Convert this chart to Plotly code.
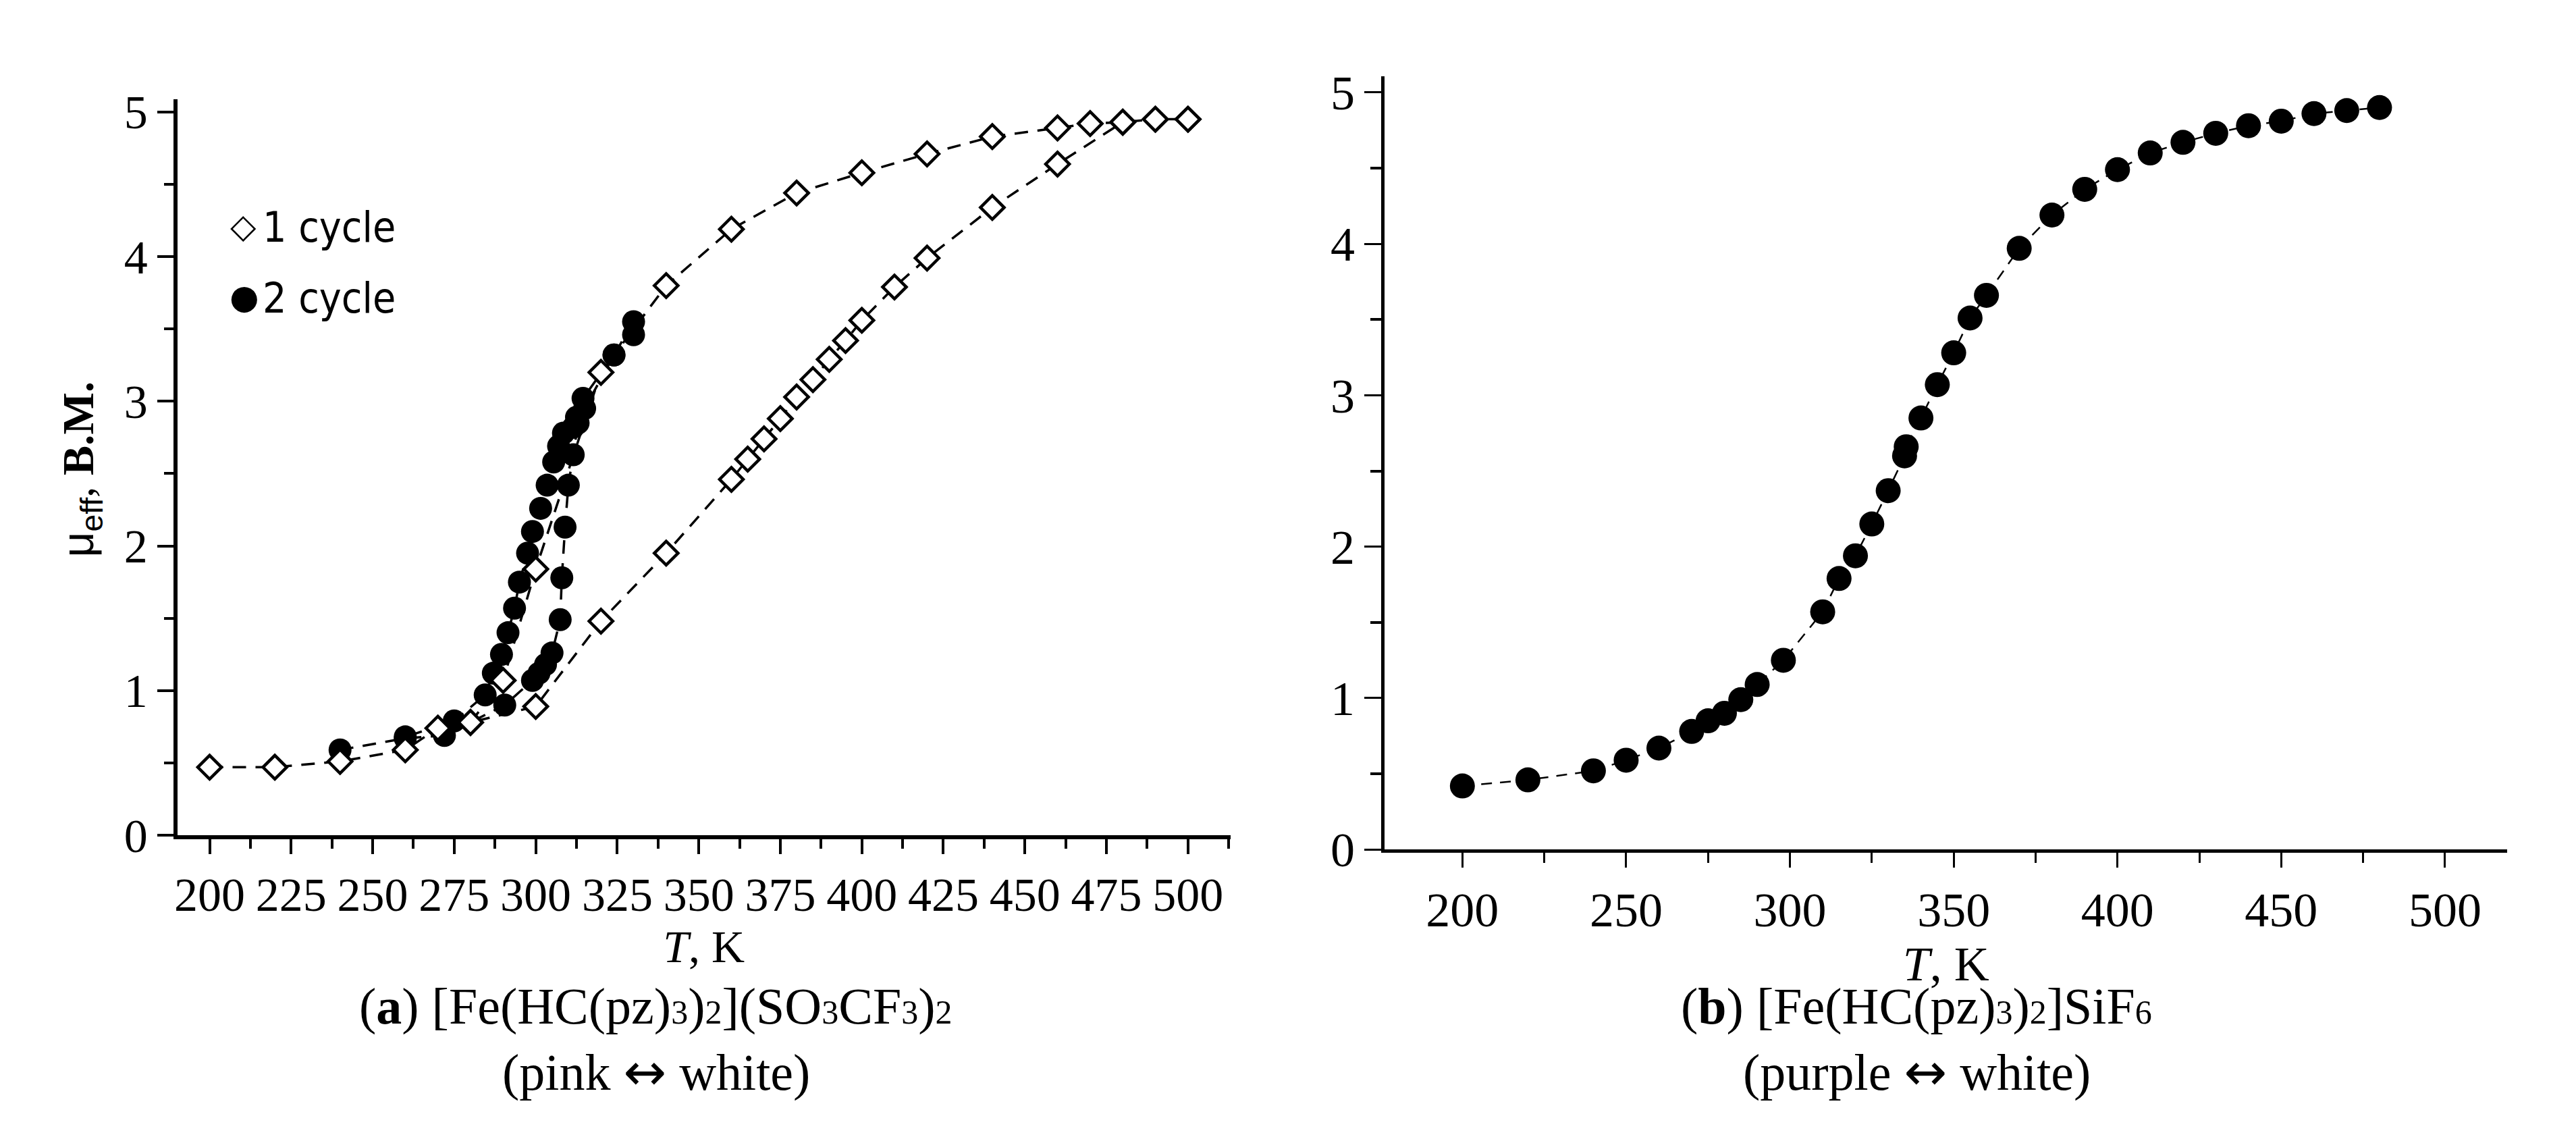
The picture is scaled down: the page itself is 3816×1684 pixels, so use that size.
import plotly.graph_objects as go

# (a) [Fe(HC(pz)3)2](SO3CF3)2 -- cycle 1, heating and cooling branches
c1_heat_T = [200, 220, 240, 260, 270, 280, 300, 320, 340, 360, 365, 370, 375, 380,
             385, 390, 395, 400, 410, 420, 440, 460, 480, 490, 500]
c1_heat_mu = [0.47, 0.47, 0.51, 0.59, 0.74, 0.78, 0.89, 1.48, 1.95, 2.46, 2.6, 2.74,
              2.88, 3.03, 3.15, 3.29, 3.42, 3.56, 3.79, 3.99, 4.34, 4.64, 4.93, 4.95, 4.95]
c1_cool_T = [500, 490, 480, 470, 460, 440, 420, 400, 380, 360, 340, 320, 300, 290, 280]
c1_cool_mu = [4.95, 4.95, 4.93, 4.92, 4.89, 4.83, 4.71, 4.58, 4.44, 4.19, 3.80, 3.20,
              1.84, 1.07, 0.78]

# cycle 2
c2_heat_T = [240, 260, 272, 290.5, 299, 301, 303, 305, 307.5, 308, 309, 310, 311.5,
             313, 315, 324, 330]
c2_heat_mu = [0.59, 0.67, 0.69, 0.9, 1.07, 1.12, 1.18, 1.26, 1.49, 1.78, 2.13, 2.42,
              2.63, 2.85, 2.95, 3.32, 3.46]
c2_cool_T = [330, 324, 314.5, 312.5, 311.5, 308.5, 307, 305.5, 303.5, 301.5, 299, 297.5,
             295, 293.5, 291.5, 289.5, 287, 284.5, 275, 260]
c2_cool_mu = [3.55, 3.32, 3.02, 2.89, 2.82, 2.78, 2.69, 2.58, 2.42, 2.26, 2.1, 1.95,
              1.75, 1.57, 1.4, 1.25, 1.12, 0.97, 0.79, 0.68]

# (b) [Fe(HC(pz)3)2]SiF6
b_T = [200, 220, 240, 250, 260, 270, 275, 280, 285, 290, 298, 310, 315, 320, 325, 330,
       335, 335.5, 340, 345, 350, 355, 360, 370, 380, 390, 400, 410, 420, 430, 440,
       450, 460, 470, 480]
b_mu = [0.42, 0.46, 0.52, 0.59, 0.67, 0.78, 0.85, 0.9, 0.99, 1.09, 1.25, 1.57, 1.79,
        1.94, 2.15, 2.37, 2.6, 2.66, 2.85, 3.07, 3.28, 3.51, 3.66, 3.97, 4.19, 4.36,
        4.49, 4.6, 4.67, 4.73, 4.78, 4.81, 4.86, 4.88, 4.9]

left_ticks = list(range(200, 501, 25))
right_ticks = list(range(200, 501, 50))

W, H = 3816, 1684
serif = "Liberation Serif"
dash = "20px,14px"

fig = go.Figure()

# cycle 2 below cycle 1
for T, mu in [(c2_heat_T, c2_heat_mu), (c2_cool_T, c2_cool_mu)]:
    fig.add_trace(go.Scatter(
        x=T, y=mu, mode="lines+markers", showlegend=False,
        line=dict(color="black", width=3.5, dash=dash),
        marker=dict(symbol="circle", size=34, color="black"),
        xaxis="x", yaxis="y"))
for T, mu in [(c1_heat_T, c1_heat_mu), (c1_cool_T, c1_cool_mu)]:
    fig.add_trace(go.Scatter(
        x=T, y=mu, mode="lines+markers", showlegend=False,
        line=dict(color="black", width=3.5, dash=dash),
        marker=dict(symbol="diamond", size=27, color="white",
                    line=dict(color="black", width=4.5)),
        xaxis="x", yaxis="y"))

fig.add_trace(go.Scatter(
    x=b_T, y=b_mu, mode="lines+markers", showlegend=False,
    line=dict(color="black", width=2.5, dash="16px,12px"),
    marker=dict(symbol="circle", size=37, color="black"),
    xaxis="x2", yaxis="y2"))

tickfont = dict(family=serif, size=70, color="black")

fig.update_layout(
    width=W, height=H,
    margin=dict(l=0, r=0, t=0, b=0),
    paper_bgcolor="white", plot_bgcolor="white",
    showlegend=False,
    xaxis=dict(
        domain=[250 / W, 1812 / W], range=[190.1, 513.0],
        tickvals=left_ticks, ticktext=[str(v) for v in left_ticks],
        ticks="outside", ticklen=22, tickwidth=4, tickcolor="black",
        minor=dict(tickvals=[v + 12.5 for v in left_ticks], ticks="outside",
                   ticklen=14, tickwidth=4, tickcolor="black"),
        showline=True, linewidth=6, linecolor="black",
        showgrid=False, zeroline=False, tickfont=tickfont,
        title=dict(text="<i>T</i>, K", font=dict(family=serif, size=68, color="black"),
                   standoff=2),
        anchor="y",
    ),
    yaxis=dict(
        domain=[1 - 1255 / H, 1 - 125 / H], range=[0, 5.09],
        tickvals=[0, 1, 2, 3, 4, 5],
        ticks="outside", ticklen=24, tickwidth=4, tickcolor="black",
        minor=dict(tickvals=[0.5, 1.5, 2.5, 3.5, 4.5], ticks="outside",
                   ticklen=14, tickwidth=4, tickcolor="black"),
        showline=True, linewidth=6, linecolor="black",
        showgrid=False, zeroline=False, tickfont=tickfont,
        anchor="x",
    ),
    xaxis2=dict(
        domain=[2041 / W, 3706 / W], range=[176.3, 519.0],
        tickvals=right_ticks, ticktext=[str(v) for v in right_ticks],
        ticks="outside", ticklen=22, tickwidth=3, tickcolor="black",
        minor=dict(tickvals=[v + 25 for v in right_ticks[:-1]], ticks="outside",
                   ticklen=15, tickwidth=3, tickcolor="black"),
        showline=True, linewidth=5, linecolor="black",
        showgrid=False, zeroline=False,
        tickfont=dict(family=serif, size=72, color="black"),
        title=dict(text="<i>T</i>, K", font=dict(family=serif, size=72, color="black"),
                   standoff=0),
        anchor="y2",
    ),
    yaxis2=dict(
        domain=[1 - 1277 / H, 1 - 90 / H], range=[0, 5.107],
        tickvals=[0, 1, 2, 3, 4, 5],
        ticks="outside", ticklen=25, tickwidth=3, tickcolor="black",
        minor=dict(tickvals=[0.5, 1.5, 2.5, 3.5, 4.5], ticks="outside",
                   ticklen=16, tickwidth=4, tickcolor="black"),
        showline=True, linewidth=5, linecolor="black",
        showgrid=False, zeroline=False,
        tickfont=dict(family=serif, size=72, color="black"),
        anchor="x2",
    ),
)


def note(text, x, y, font, **kw):
    # place a text in figure pixels (from the top-left corner)
    fig.add_annotation(text=text, xref="paper", yref="paper", x=x / W, y=1 - y / H,
                       xanchor=kw.pop("xanchor", "center"), yanchor="middle",
                       showarrow=False, font=font, **kw)


def small(d):
    # small digit sitting on the baseline, as in the caption
    return '<span style="font-size:50px">%s</span>' % d


arrow = '<span style="font-family:DejaVu Sans">↔</span>'

# y-axis title of panel (a)
note('<span style="font-family:Liberation Sans">μ<sub>eff</sub></span>, <b>B.M.</b>',
     107, 693, dict(family=serif, size=66, color="black"), textangle=-90)

# legend of panel (a)
legend_font = dict(family="Liberation Sans Narrow, DejaVu Sans Condensed, Liberation Sans",
                   size=62, color="black")
note("◇", 348, 320, dict(family="DejaVu Sans", size=50, color="black"))
note("1 cycle", 374, 322, legend_font, xanchor="left")
note("●", 349, 429, dict(family="DejaVu Sans", size=50, color="black"))
note("2 cycle", 374, 431, legend_font, xanchor="left")

# captions
cap_font = dict(family=serif, size=76, color="black")
note("(<b>a</b>) [Fe(HC(pz)%s)%s](SO%sCF%s)%s"
     % (small(3), small(2), small(3), small(3), small(2)), 960, 1518, cap_font)
note("(pink %s white)" % arrow, 960, 1618, cap_font)
note("(<b>b</b>) [Fe(HC(pz)%s)%s]SiF%s" % (small(3), small(2), small(6)),
     2830, 1518, cap_font)
note("(purple %s white)" % arrow, 2830, 1618, cap_font)

fig.write_html("out.html")
